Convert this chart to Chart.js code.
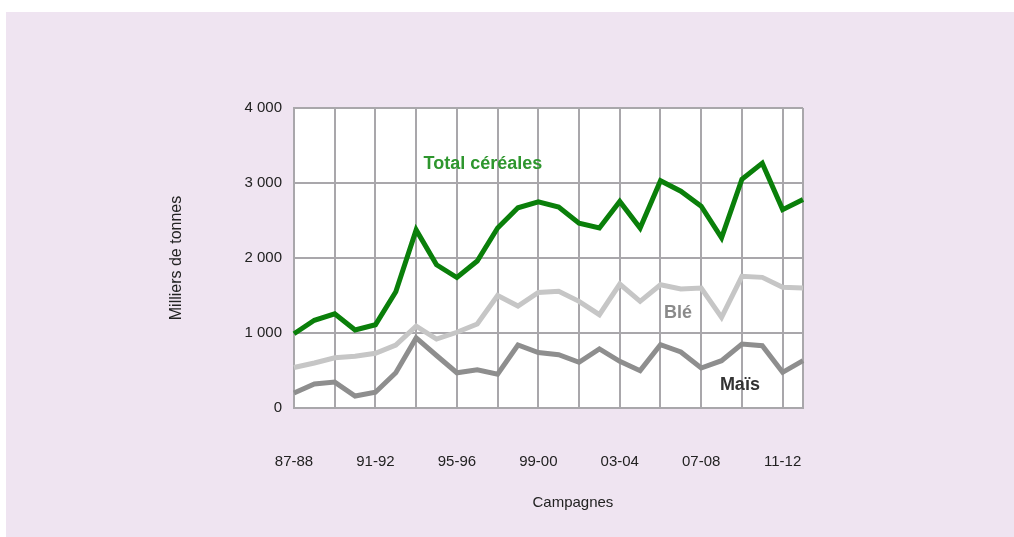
<!DOCTYPE html>
<html>
<head>
<meta charset="utf-8">
<script src="https://cdn.jsdelivr.net/npm/chart.js@4"></script>
<style>
  html, body { margin: 0; padding: 0; background: #ffffff; }
  .box { position: absolute; left: 6px; top: 12px; width: 1008px; height: 525px; background: #efe4f1; }
  #wrap { position: absolute; left: 0; top: 0; width: 1014px; height: 537px; }
</style>
</head>
<body>
<div class="box"></div>
<div id="wrap"><canvas id="chart-cereales"></canvas></div>
<script>
var campagnes = ["87-88", "88-89", "89-90", "90-91", "91-92", "92-93", "93-94", "94-95", "95-96", "96-97",
  "97-98", "98-99", "99-00", "00-01", "01-02", "02-03", "03-04", "04-05", "05-06", "06-07",
  "07-08", "08-09", "09-10", "10-11", "11-12", "12-13"];
// milliers de tonnes
var totalCereales = [990, 1170, 1255, 1040, 1110, 1550, 2375, 1910, 1740, 1960,
  2400, 2670, 2750, 2680, 2465, 2400, 2755, 2400, 3030, 2890,
  2690, 2270, 3050, 3265, 2645, 2780];
var ble = [540, 600, 670, 690, 730, 840, 1090, 920, 1010, 1120,
  1500, 1360, 1540, 1556, 1422, 1244, 1653, 1422, 1644, 1587,
  1600, 1209, 1756, 1742, 1609, 1600];
var mais = [200, 320, 345, 160, 210, 470, 935, 700, 470, 510,
  450, 840, 740, 711, 609, 787, 622, 498, 844, 747,
  533, 631, 853, 831, 476, 631];
var yTicks = [0, 1000, 2000, 3000, 4000];

// etiquettes posees dans le graphique (index campagne, valeur)
var etiquettes = [
  { text: "Total céréales", x: 9.28, y: 3250, color: "#2e962e" },
  { text: "Blé", x: 18.86, y: 1270, color: "#8a8a8a" },
  { text: "Maïs", x: 21.9, y: 310, color: "#333333" }
];

var gridColor = "#a9a7ab";

var etiquettePlugin = {
  id: "etiquettes",
  afterDatasetsDraw: function(chart) {
    var ctx = chart.ctx;
    var a = chart.chartArea;
    ctx.save();
    ctx.font = "bold 18px 'Liberation Sans', Arial, sans-serif";
    ctx.textAlign = "center";
    ctx.textBaseline = "middle";
    etiquettes.forEach(function(e) {
      ctx.fillStyle = e.color;
      ctx.fillText(e.text, chart.scales.x.getPixelForValue(e.x), chart.scales.y.getPixelForValue(e.y));
    });
    // titre de l'axe x, un peu decale a droite comme dans l'original
    ctx.font = "15px 'Liberation Sans', Arial, sans-serif";
    ctx.fillStyle = "#222222";
    ctx.fillText("Campagnes", a.left + (a.right - a.left) * 0.548, 503);
    ctx.restore();
  }
};

var plotBg = {
  id: "plotBg",
  beforeDraw: function(chart) {
    var a = chart.chartArea;
    chart.ctx.save();
    chart.ctx.fillStyle = "#ffffff";
    chart.ctx.fillRect(a.left, a.top, a.right - a.left, a.bottom - a.top);
    chart.ctx.restore();
  }
};

Chart.defaults.font.family = "'Liberation Sans', Arial, sans-serif";
Chart.defaults.color = "#222222";

var ctx = document.getElementById("chart-cereales").getContext("2d");
new Chart(ctx, {
  type: "line",
  data: {
    labels: campagnes,
    datasets: [{
      label: "Total céréales",
      data: totalCereales,
      borderColor: "#0a7f0a",
      borderWidth: 5,
      pointRadius: 0,
      tension: 0
    }, {
      label: "Blé",
      data: ble,
      borderColor: "#c6c6c6",
      borderWidth: 5,
      pointRadius: 0,
      tension: 0
    }, {
      label: "Maïs",
      data: mais,
      borderColor: "#8e8e8e",
      borderWidth: 5,
      pointRadius: 0,
      tension: 0
    }]
  },
  options: {
    responsive: true,
    maintainAspectRatio: false,
    animation: false,
    layout: { padding: { left: 167, right: 211, top: 108, bottom: 0 } },
    plugins: {
      legend: { display: false },
      tooltip: { enabled: false }
    },
    scales: {
      x: {
        offset: false,
        afterFit: function(scale) { scale.height = 129; },
        grid: {
          drawTicks: false,
          lineWidth: 2,
          color: function(c) {
            return (c.index % 2 === 0 || c.index === campagnes.length - 1) ? gridColor : "rgba(0,0,0,0)";
          }
        },
        border: { color: gridColor, width: 2 },
        ticks: {
          autoSkip: false,
          maxRotation: 0,
          minRotation: 0,
          padding: 45,
          font: { size: 15 },
          callback: function(val, idx) {
            return idx % 4 === 0 ? campagnes[idx] : "";
          }
        }
      },
      y: {
        min: 0,
        max: 4000,
        afterFit: function(scale) { scale.width = 127; },
        afterBuildTicks: function(scale) {
          scale.ticks = yTicks.map(function(v) { return { value: v }; });
        },
        grid: {
          drawTicks: false,
          lineWidth: 2,
          color: gridColor
        },
        border: { color: gridColor, width: 2 },
        ticks: {
          padding: 12,
          font: { size: 15 },
          callback: function(v) {
            return v === 0 ? "0" : (v / 1000) + " 000";
          }
        },
        title: {
          display: true,
          text: "Milliers de tonnes",
          font: { size: 16 },
          padding: { top: 0, bottom: 0 }
        }
      }
    }
  },
  plugins: [plotBg, etiquettePlugin]
});
</script>
</body>
</html>
